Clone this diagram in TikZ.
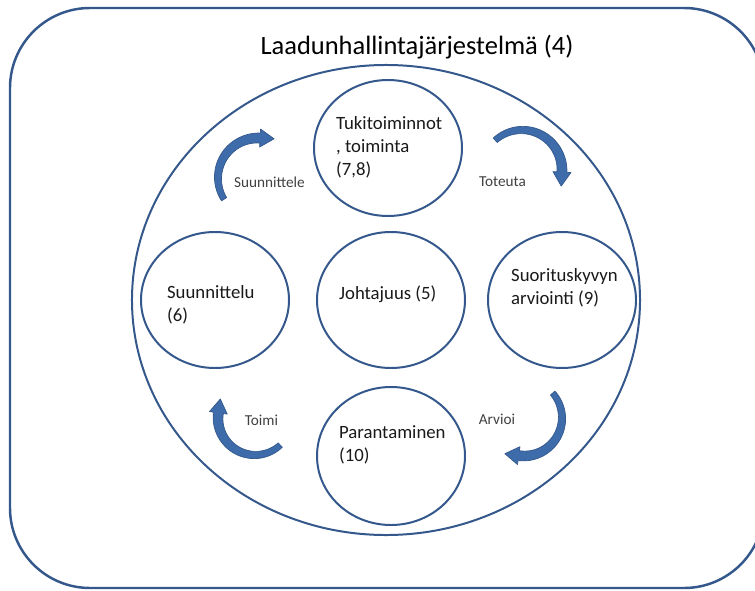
\documentclass[tikz,border=0pt]{standalone}
\usepackage{fontspec}
\setmainfont{Carlito}
\usepackage{tikz}
\usetikzlibrary{arrows.meta, calc, positioning, shapes.geometric}
\usepackage{xcolor}
\definecolor{qline}{RGB}{52,88,140}
\definecolor{qfill}{RGB}{62,108,170}
\definecolor{qgray}{RGB}{64,64,64}

\begin{document}
\begin{tikzpicture}[x=0.03cm, y=-0.03cm,
    ring/.style={draw=qline, line width=1.7pt, ellipse, inner sep=0pt,
                 minimum width=4.44cm, minimum height=4.08cm},
    txt/.style={anchor=west, align=left, font=\fontsize{16}{19.5}\selectfont, text=black!90},
    steplabel/.style={font=\fontsize{13}{15}\selectfont, text=qgray},
    bigarrow/.style={fill=qfill, draw=qline, line width=0.6pt, line join=round}]
    \useasboundingbox (0,0) rectangle (755,591);
    \clip (0,0) rectangle (755,591);

    % ulkokehys
    \draw[qline, line width=2.1pt, rounded corners=2.4cm] (10,8) rectangle (764,588);
    \node[font=\fontsize{22.6}{26}\selectfont] (title) at (417,47) {Laadunhallintajärjestelmä (4)};

    % iso ellipsi
    \node[ring, minimum width=15.24cm, minimum height=14.1cm] (qms) at (386,300) {};

    % ympyrät
    \node[ring] (tuki) at (388,148) {};
    \node[ring] (suun) at (215,300) {};
    \node[ring] (joht) at (391,300) {};
    \node[ring] (suor) at (562,300) {};
    \node[ring, minimum height=4.14cm] (para) at (391,456) {};

    \node[txt] (tuki-txt) at (332,147) {Tukitoiminnot\\, toiminta\\(7,8)};
    \node[txt] (suun-txt) at (163,305) {Suunnittelu\\(6)};
    \node[txt] (joht-txt) at (335,294) {Johtajuus (5)};
    \node[txt] (suor-txt) at (507,288) {Suorituskyvyn\\arviointi (9)};
    \node[txt] (para-txt) at (335,445) {Parantaminen\\(10)};

    % kaarinuolet
    \foreach \cx/\cy/\r/\a/\b in {258/178/40/148/273, 522/170/40/228/363,
                                  524/418/38/-41/98, 255/418/37/47/188}{
        \begin{scope}[shift={(\cx,\cy)}]
            \filldraw[bigarrow] plot[domain=\a:\b, samples=40] (\x:{\r+3+2*(\x-\a)/(\b-\a)})
                -- (\b:{\r+9}) -- ({\b+atan(14/\r)}:{sqrt(\r*\r+196)}) -- (\b:{\r-9})
                -- plot[domain=\b:\a, samples=40] (\x:{\r-3-2*(\x-\a)/(\b-\a)}) -- cycle;
        \end{scope}
    }

    \node[steplabel] (lbl-suun) at (269.5,182) {Suunnittele};
    \node[steplabel] (lbl-tot) at (502.5,182) {Toteuta};
    \node[steplabel] (lbl-arv) at (497,419) {Arvioi};
    \node[steplabel] (lbl-toimi) at (261.5,420) {Toimi};
\end{tikzpicture}
\end{document}
